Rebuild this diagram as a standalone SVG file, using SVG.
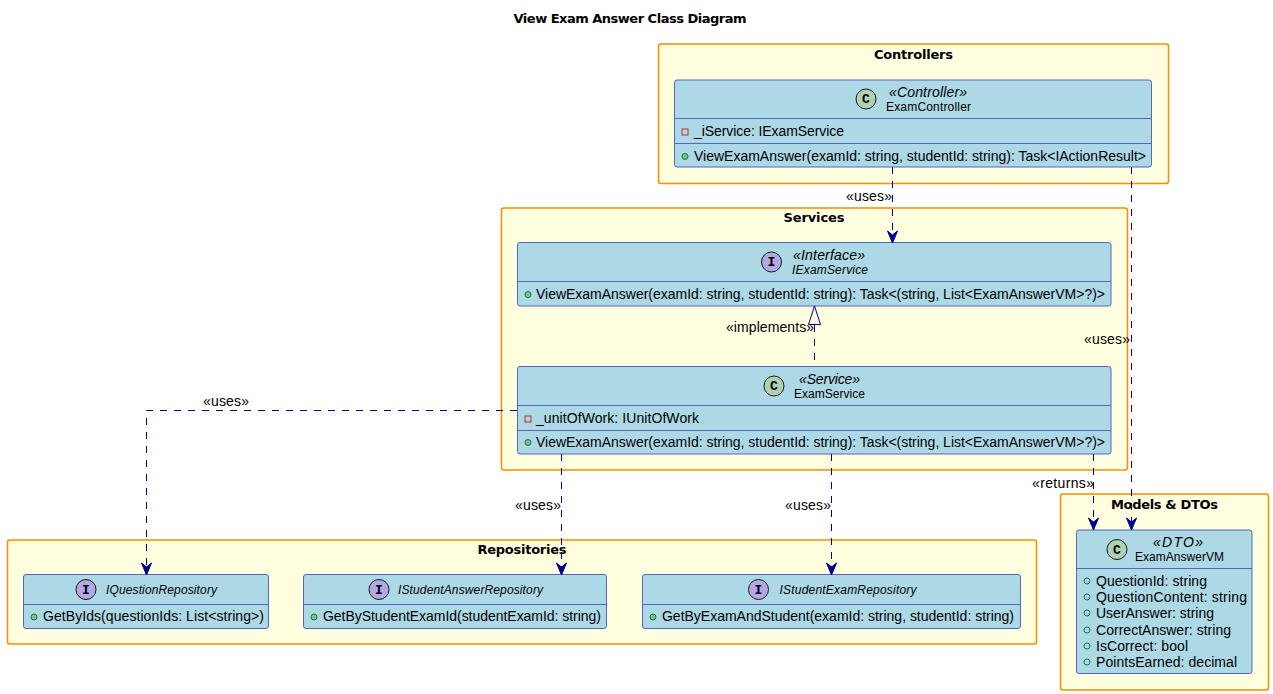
<svg xmlns="http://www.w3.org/2000/svg" width="1273" height="694" viewBox="0 0 1273 694">
<style>
text{font-family:"Liberation Sans",Arial,sans-serif;font-size:14px;fill:#000}
.pkg{fill:#FFFFE0;stroke:#FF8C00;stroke-width:1.5}
.cls{fill:#ADD8E6;stroke:#5566BB;stroke-width:1}
.div{stroke:#5566BB;stroke-width:1}
.pt{font-weight:bold;font-family:"DejaVu Sans",sans-serif;font-size:13px;text-anchor:middle}
.st{font-style:italic;text-anchor:middle}
.nm{font-size:12px;text-anchor:middle}
.it{font-style:italic;font-size:12px;text-anchor:middle}
.cc{fill:#ADD1B2;stroke:#181818;stroke-width:1}
.ci{fill:#B4A7E5;stroke:#181818;stroke-width:1}
.gl{font-family:"Liberation Mono",monospace;font-weight:bold;font-size:13px;text-anchor:middle}
.pub{fill:#84BE84;stroke:#038048;stroke-width:1}
.pubo{fill:none;stroke:#038048;stroke-width:1}
.pri{fill:none;stroke:#C82930;stroke-width:1}
.ln{fill:none;stroke:#00008B;stroke-width:1;stroke-dasharray:7 7}
.ah{fill:#00008B;stroke:#00008B;stroke-width:1}
.tri{fill:none;stroke:#00008B;stroke-width:1}
</style>
<text x="630" y="23" class="pt" textLength="233">View Exam Answer Class Diagram</text>
<g id="pkg-controllers"><rect class="pkg" x="658.5" y="44" width="510" height="139.5" rx="2.5"/><text x="913.5" y="59" class="pt" textLength="79">Controllers</text></g>
<g id="pkg-services"><rect class="pkg" x="501.5" y="208" width="626" height="262" rx="2.5"/><text x="814" y="222" class="pt" textLength="61">Services</text></g>
<g id="pkg-repositories"><rect class="pkg" x="7.5" y="540" width="1029" height="104" rx="2.5"/><text x="522" y="554" class="pt" textLength="89">Repositories</text></g>
<g id="pkg-models"><rect class="pkg" x="1060.5" y="494" width="208" height="196" rx="2.5"/><text x="1164.5" y="509" class="pt" textLength="107">Models &amp; DTOs</text></g>
<g id="ExamController">
<rect class="cls" x="674.5" y="80" width="477" height="87" rx="2.5"/>
<line class="div" x1="674.5" x2="1151.5" y1="118.500" y2="118.500"/><line class="div" x1="674.5" x2="1151.5" y1="143.500" y2="143.500"/>
<circle class="cc" cx="866" cy="99" r="10"/><text x="866" y="103" class="gl">C</text>
<text x="928" y="97" class="st" textLength="78">«Controller»</text><text x="928.500" y="111" class="nm" textLength="85">ExamController</text>
<rect class="pri" x="682" y="129" width="6" height="6"/><text x="694" y="136" textLength="150">_iService: IExamService</text>
<circle class="pub" cx="685" cy="156.500" r="3"/><text x="694" y="161" textLength="452">ViewExamAnswer(examId: string, studentId: string): Task&lt;IActionResult&gt;</text>
</g>
<g id="IExamService">
<rect class="cls" x="517.5" y="242.500" width="593.500" height="63.500" rx="2.5"/>
<line class="div" x1="517.5" x2="1111" y1="281.500" y2="281.500"/>
<circle class="ci" cx="771.500" cy="262" r="10"/><text x="771.500" y="266" class="gl">I</text>
<text x="829" y="260" class="st" textLength="72">«Interface»</text><text x="830" y="274" class="it" textLength="76">IExamService</text>
<circle class="pub" cx="528" cy="294.500" r="3"/><text x="536" y="299" textLength="569">ViewExamAnswer(examId: string, studentId: string): Task&lt;(string, List&lt;ExamAnswerVM&gt;?)&gt;</text>
</g>
<g id="ExamService">
<rect class="cls" x="517.5" y="366.500" width="593.500" height="87.500" rx="2.5"/>
<line class="div" x1="517.5" x2="1111" y1="405.500" y2="405.500"/><line class="div" x1="517.5" x2="1111" y1="430.500" y2="430.500"/>
<circle class="cc" cx="774" cy="386" r="10"/><text x="774" y="390" class="gl">C</text>
<text x="829.500" y="384" class="st" textLength="61">«Service»</text><text x="829.500" y="398" class="nm" textLength="71">ExamService</text>
<rect class="pri" x="525" y="416" width="6" height="6"/><text x="536" y="423" textLength="163">_unitOfWork: IUnitOfWork</text>
<circle class="pub" cx="528" cy="442.500" r="3"/><text x="536" y="447" textLength="569">ViewExamAnswer(examId: string, studentId: string): Task&lt;(string, List&lt;ExamAnswerVM&gt;?)&gt;</text>
</g>
<g id="IQuestionRepository">
<rect class="cls" x="23.500" y="574.500" width="245" height="54" rx="2.5"/>
<line class="div" x1="23.500" x2="268.500" y1="604.500" y2="604.500"/>
<circle class="ci" cx="86" cy="589.500" r="10"/><text x="86" y="593.500" class="gl">I</text>
<text x="161.500" y="593.500" class="it" textLength="111">IQuestionRepository</text>
<circle class="pub" cx="34" cy="617" r="3"/><text x="43" y="621" textLength="221">GetByIds(questionIds: List&lt;string&gt;)</text>
</g>
<g id="IStudentAnswerRepository">
<rect class="cls" x="303.500" y="574.500" width="303" height="54" rx="2.5"/>
<line class="div" x1="303.500" x2="606.500" y1="604.500" y2="604.500"/>
<circle class="ci" cx="379" cy="589.500" r="10"/><text x="379" y="593.500" class="gl">I</text>
<text x="470.500" y="593.500" class="it" textLength="145">IStudentAnswerRepository</text>
<circle class="pub" cx="314" cy="617" r="3"/><text x="323" y="621" textLength="278">GetByStudentExamId(studentExamId: string)</text>
</g>
<g id="IStudentExamRepository">
<rect class="cls" x="642.500" y="574.500" width="378" height="54" rx="2.5"/>
<line class="div" x1="642.500" x2="1020.500" y1="604.500" y2="604.500"/>
<circle class="ci" cx="758.500" cy="589.500" r="10"/><text x="758.500" y="593.500" class="gl">I</text>
<text x="848" y="593.500" class="it" textLength="137">IStudentExamRepository</text>
<circle class="pub" cx="653" cy="617" r="3"/><text x="662" y="621" textLength="352">GetByExamAndStudent(examId: string, studentId: string)</text>
</g>
<g id="ExamAnswerVM">
<rect class="cls" x="1076.500" y="530" width="175.500" height="143.500" rx="2.5"/>
<line class="div" x1="1076.500" x2="1252" y1="568.500" y2="568.500"/>
<circle class="cc" cx="1117" cy="549.500" r="10"/><text x="1117" y="553.500" class="gl">C</text>
<text x="1178" y="547" class="st" textLength="50">«DTO»</text><text x="1179.500" y="561" class="nm" textLength="89">ExamAnswerVM</text>
<circle class="pubo" cx="1087" cy="581" r="3"/><text x="1096" y="586" textLength="111">QuestionId: string</text>
<circle class="pubo" cx="1087" cy="597" r="3"/><text x="1096" y="602" textLength="151">QuestionContent: string</text>
<circle class="pubo" cx="1087" cy="613" r="3"/><text x="1096" y="618" textLength="118">UserAnswer: string</text>
<circle class="pubo" cx="1087" cy="630" r="3"/><text x="1096" y="635" textLength="135">CorrectAnswer: string</text>
<circle class="pubo" cx="1087" cy="646" r="3"/><text x="1096" y="651" textLength="92">IsCorrect: bool</text>
<circle class="pubo" cx="1087" cy="662" r="3"/><text x="1096" y="667" textLength="141">PointsEarned: decimal</text>
</g>
<g id="connectors">
<path class="ln" d="M892.500 167V236"/><path class="ah" d="M892.500 243L887.500 231L892.500 235L897.500 231Z"/>
<path class="ln" d="M1131.500 167V523"/><path class="ah" d="M1131.500 530L1126.500 518L1131.500 522L1136.500 518Z"/>
<path class="ln" d="M814.500 325V366"/><path class="tri" d="M814.500 306L808.500 324.500H820.500Z"/>
<path class="ln" d="M517 410.500H146.500V568"/><path class="ah" d="M146.500 575L141.500 563L146.500 567L151.500 563Z"/>
<path class="ln" d="M561.500 454V568"/><path class="ah" d="M561.500 575L556.500 563L561.500 567L566.500 563Z"/>
<path class="ln" d="M831.500 454V568"/><path class="ah" d="M831.500 575L826.500 563L831.500 567L836.500 563Z"/>
<path class="ln" d="M1093.500 454V523"/><path class="ah" d="M1093.500 530L1088.500 518L1093.500 522L1098.500 518Z"/>
<text x="846" y="201" textLength="46">«uses»</text>
<text x="726" y="332" textLength="88">«implements»</text>
<text x="1084" y="344" textLength="46">«uses»</text>
<text x="203" y="406" textLength="46">«uses»</text>
<text x="515" y="510" textLength="46">«uses»</text>
<text x="785" y="510" textLength="46">«uses»</text>
<text x="1032" y="488" textLength="62">«returns»</text>
</g>
</svg>
